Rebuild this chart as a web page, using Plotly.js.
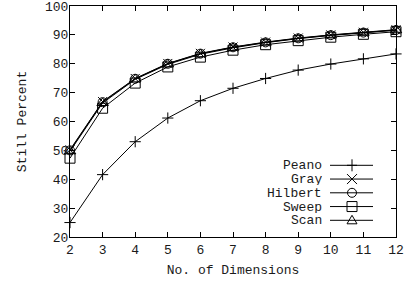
<!DOCTYPE html>
<html>
<head>
<meta charset="utf-8">
<script src="https://cdn.plot.ly/plotly-3.0.1.min.js"></script>
<style>html,body{margin:0;padding:0;background:#fff;}#chart{width:415px;height:286px;}</style>
</head>
<body>
<div id="chart"></div>
<script>
var dims = [2, 3, 4, 5, 6, 7, 8, 9, 10, 11, 12];
var peano   = [25.0, 41.6, 53.0, 61.2, 67.2, 71.5, 74.9, 77.8, 79.9, 81.7, 83.4];
var gray    = [50.2, 66.9, 74.9, 80.1, 83.6, 85.8, 87.5, 88.9, 90.0, 90.9, 91.8];
var hilbert = [50.0, 66.7, 74.8, 80.0, 83.5, 85.7, 87.4, 88.8, 89.9, 90.8, 91.7];
var sweep   = [47.3, 64.6, 73.3, 78.9, 82.3, 84.7, 86.6, 88.0, 89.2, 90.2, 91.1];
var scan    = [49.7, 66.4, 74.6, 79.8, 83.3, 85.5, 87.3, 88.7, 89.8, 90.7, 91.6];
var names   = ['Peano', 'Gray', 'Hilbert', 'Sweep', 'Scan'];
var xTicks  = [2, 3, 4, 5, 6, 7, 8, 9, 10, 11, 12];
var yTicks  = [20, 30, 40, 50, 60, 70, 80, 90, 100];

var series = [peano, gray, hilbert, sweep, scan];
var symbols = ['cross-thin-open', 'x-thin-open', 'circle-open', 'square-open', 'triangle-up-open'];
var sizes = [8, 9, 9, 10, 10];
var FONT = '"Liberation Mono", "Courier New", monospace';
var TXT = '#1a1a1a';

var traces = series.map(function (ys, i) {
  return {
    x: dims, y: ys, type: 'scatter', mode: 'lines+markers',
    name: names[i], cliponaxis: false, showlegend: false,
    line: {color: '#000', width: 1},
    marker: {symbol: symbols[i], size: sizes[i], color: '#000', line: {color: '#000', width: 1}}
  };
});

// legend key drawn in pixel units (gnuplot style: label left, sample right)
var L = 70, R = 396, T = 6, B = 237;
function fx(px) { return (px - L) / (R - L); }
function fy(py) { return (B - py) / (B - T); }
var keyX = 352, keyRow0 = 165.3, keyDy = 13.75, textRight = 323;
var keyPaths = [
  'M-5,0H5M0,-6V6',
  'M-5,-5L5,5M-5,5L5,-5',
  null,
  null,
  'M-5,-3.5L5,-3.5L0,5Z'
];
var shapes = [];
var annotations = [];
names.forEach(function (n, i) {
  var ay = fy(keyRow0 + i * keyDy);
  shapes.push({type: 'line', xref: 'paper', yref: 'paper', xsizemode: 'pixel', ysizemode: 'pixel',
               xanchor: fx(keyX), yanchor: ay, x0: -22, x1: 21, y0: 0, y1: 0,
               line: {color: '#000', width: 1}});
  var base = {xref: 'paper', yref: 'paper', xsizemode: 'pixel', ysizemode: 'pixel',
              xanchor: fx(keyX), yanchor: ay, line: {color: '#000', width: 1}, fillcolor: 'rgba(0,0,0,0)'};
  if (i === 2) {
    shapes.push(Object.assign({type: 'circle', x0: -4.5, x1: 4.5, y0: -4.5, y1: 4.5}, base));
  } else if (i === 3) {
    shapes.push(Object.assign({type: 'rect', x0: -5, x1: 5, y0: -5, y1: 5}, base));
  } else {
    shapes.push(Object.assign({type: 'path', path: keyPaths[i]}, base));
  }
  annotations.push({
    xref: 'paper', yref: 'paper', x: fx(textRight), xanchor: 'right',
    y: ay, yanchor: 'middle', text: n, showarrow: false, borderpad: 0, height: 12,
    font: {family: FONT, size: 13, color: TXT}
  });
});

var layout = {
  width: 415, height: 286,
  margin: {l: L, r: 415 - R, t: T, b: 286 - B},
  paper_bgcolor: '#fff', plot_bgcolor: '#fff',
  font: {family: FONT, size: 13, color: TXT},
  showlegend: false,
  xaxis: {
    range: [2, 12.0001], tickvals: xTicks, ticktext: xTicks.map(String),
    ticks: 'inside', ticklen: 5, tickcolor: '#000', mirror: 'ticks',
    showline: true, linecolor: '#000', linewidth: 1, showgrid: false, zeroline: false,
    ticklabeloverflow: 'allow',
    title: {text: 'No. of Dimensions', font: {family: FONT, size: 13, color: TXT}, standoff: 8},
    tickfont: {family: FONT, size: 13, color: TXT}
  },
  yaxis: {
    range: [19.999, 100.001], tickvals: yTicks, ticktext: yTicks.map(String),
    ticks: 'inside', ticklen: 5, tickcolor: '#000', mirror: 'ticks',
    showline: true, linecolor: '#000', linewidth: 1, showgrid: false, zeroline: false,
    ticklabeloverflow: 'allow', ticklabelstandoff: -2,
    title: {text: 'Still Percent', font: {family: FONT, size: 13, color: TXT}, standoff: 15},
    tickfont: {family: FONT, size: 13, color: TXT}
  },
  shapes: shapes,
  annotations: annotations
};

Plotly.newPlot('chart', traces, layout, {staticPlot: true, displayModeBar: false});
</script>
</body>
</html>
